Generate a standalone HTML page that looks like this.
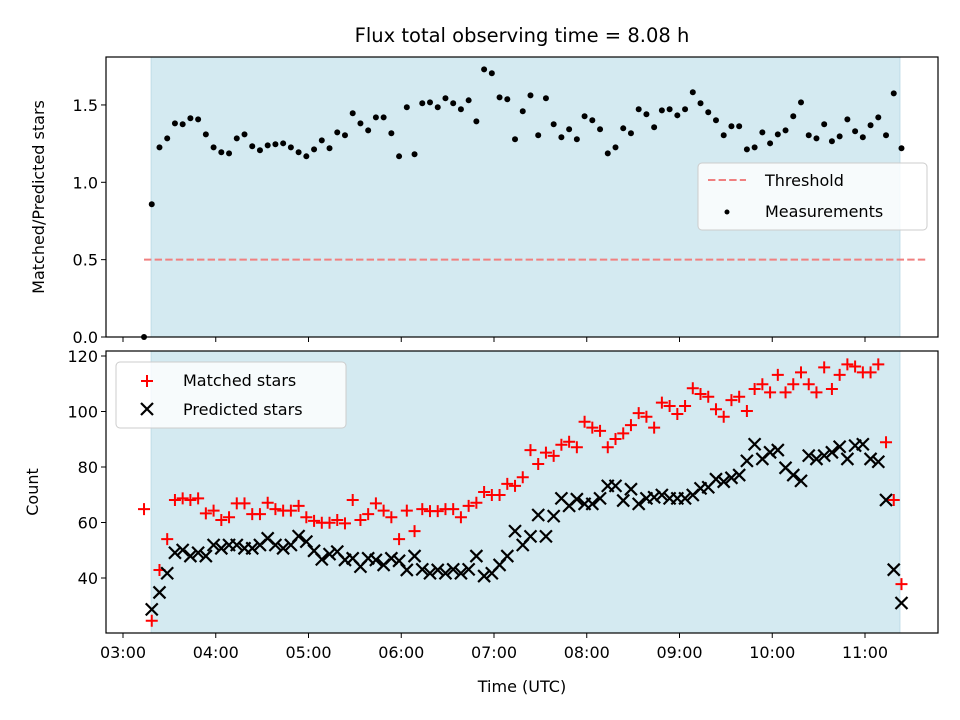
<!DOCTYPE html>
<html><head><meta charset="utf-8"><style>
html,body{margin:0;padding:0;background:#fff;}
svg{display:block;font-family:"DejaVu Sans","Liberation Sans",sans-serif;}
</style></head><body>
<svg id="chart" width="960" height="720" viewBox="0 0 960 720" xmlns="http://www.w3.org/2000/svg">
<rect width="960" height="720" fill="#fff"/>
<text x="522" y="42" font-size="19.5" text-anchor="middle">Flux total observing time = 8.08 h</text>
<g id="gtop"></g>
<g id="gbot"></g>
<text x="522" y="692" font-size="16" text-anchor="middle">Time (UTC)</text>
<text transform="translate(44,197) rotate(-90)" font-size="16" text-anchor="middle">Matched/Predicted stars</text>
<text transform="translate(38,492) rotate(-90)" font-size="16" text-anchor="middle">Count</text>
</svg>
<script>
const startMinute = 13.6;   // minutes after 03:00 of first observation
const cadenceMinutes = 5;
const ratioValues = [0,0.858,1.226,1.284,1.381,1.375,1.414,1.407,1.310,1.226,1.194,1.187,1.284,1.310,1.233,1.207,1.239,1.246,1.252,1.226,1.194,1.168,1.213,1.271,1.220,1.323,1.304,1.446,1.381,1.336,1.420,1.420,1.317,1.168,1.485,1.181,1.511,1.517,1.485,1.543,1.511,1.472,1.530,1.394,1.730,1.705,1.549,1.537,1.278,1.459,1.562,1.304,1.543,1.375,1.291,1.343,1.278,1.427,1.401,1.343,1.187,1.226,1.349,1.317,1.472,1.440,1.356,1.465,1.472,1.433,1.472,1.582,1.511,1.453,1.401,1.304,1.362,1.362,1.213,1.226,1.323,1.252,1.310,1.336,1.427,1.517,1.304,1.284,1.375,1.265,1.297,1.407,1.330,1.291,1.369,1.420,1.304,1.575,1.220];
const matchedValues = [64.8,24.6,42.9,54,68.1,68.7,68.1,68.7,63.3,64.3,60.9,61.9,66.9,66.9,63,63,67.1,64.8,64.3,64.3,66,61.9,60.6,59.9,59.9,
60.9,59.7,68.1,60.9,63,66.9,64.3,61.9,54,64.3,56.9,64.8,64.1,64.1,64.8,64.8,61.9,66,67.1,71,69.9,69.9,73.9,73.2,76.3,
86.1,81.1,85.2,84,88,89.1,87.1,96.3,94.2,93,87.1,90.1,92.1,95.1,99.4,98.1,94.2,103.2,102,99.1,102,108.4,106.3,105.3,100.8,98.1,
104.1,105.3,100.2,108.1,109.8,106.9,113.2,106.9,109.8,114.1,109.8,106.9,115.9,108.1,113.2,117,116.2,114.1,114.1,117,88.9,68.1,37.8];
const predictedValues = [null,28.7,34.8,41.7,49.1,50.1,47.9,49.1,47.9,51.9,50.7,51.9,51.9,50.7,50.7,51.9,54.3,51.9,50.7,51.9,55.1,53.1,49.8,46.7,48.6,
49.5,46.5,47.1,44.1,47.1,46.5,44.7,47.1,46.2,42.9,47.9,43.1,41.7,42.9,41.7,43.1,41.7,43.1,47.9,40.7,41.7,44.7,47.9,56.9,51.9,
55,62.7,55,62.3,68.7,66,68.4,66.7,66.7,68.7,73.2,73.2,67.9,72,66.7,68.7,69.1,69.9,68.7,68.7,68.7,69.9,72.3,72.7,75.6,
74.7,76.1,77.1,82.2,88.2,82.9,85.3,86.1,79.7,77.1,75,84.1,82.9,84.1,85.3,87.3,82.9,87.7,88.2,82.9,81.9,68.1,43,31];
const xTickLabels = ["03:00","04:00","05:00","06:00","07:00","08:00","09:00","10:00","11:00"];
const ratioTicks = [0.0,0.5,1.0,1.5];
const countTicks = [40,60,80,100,120];
const threshold = 0.5;
const spanStartMin = 18.2, spanEndMin = 502.6;

const NS="http://www.w3.org/2000/svg";
const L=106,R=938;
const xs = m => 123 + m/60*92.75;
const yTop = v => 337 - v*154.7;
const yBot = v => 578 - (v-40)*2.775;
function mk(p,tag,attrs){const e=document.createElementNS(NS,tag);for(const k in attrs)e.setAttribute(k,attrs[k]);p.appendChild(e);return e;}
const gTop=document.getElementById('gtop'), gBot=document.getElementById('gbot');

function panel(g,y0,y1,yfn,ticks,fmt,showLabels,nm){
  const s=mk(g,'rect',{x:xs(spanStartMin),y:y0,width:xs(spanEndMin)-xs(spanStartMin),height:y1-y0,fill:'#d4eaf1',stroke:'#c0dde8','stroke-width':1});
  
  
  ticks.forEach(t=>{
    const y=yfn(t);
    mk(g,'line',{x1:L-5,x2:L,y1:y,y2:y,stroke:'#000','stroke-width':1});
    const tx=mk(g,'text',{x:L-8,y:y+6,'font-size':16,'text-anchor':'end'});
    tx.textContent=fmt(t);
    
    
  });
  xTickLabels.forEach((lab,i)=>{
    const x=xs(i*60);
    mk(g,'line',{x1:x,x2:x,y1:y1,y2:y1+5,stroke:'#000','stroke-width':1});
    if(showLabels){
      const tx=mk(g,'text',{x:x,y:y1+25,'font-size':16,'text-anchor':'middle'});
      tx.textContent=lab;
      
      
    }
  });
}
panel(gTop,57,337,yTop,ratioTicks,v=>v.toFixed(1),false,'ratio');
panel(gBot,351,633,yBot,countTicks,v=>String(v),true,'count');

const th=mk(gTop,'line',{x1:xs(startMinute),x2:928,y1:yTop(threshold),y2:yTop(threshold),stroke:'#f08080','stroke-width':2,'stroke-dasharray':'7.4,3.2'});


ratioValues.forEach((v,i)=>{
  const c=mk(gTop,'circle',{cx:xs(startMinute+i*cadenceMinutes),cy:yTop(v),r:3,fill:'#000'});
  
  
});
matchedValues.forEach((v,i)=>{
  if(v==null)return;
  const x=xs(startMinute+i*cadenceMinutes),y=yBot(v);
  const p=mk(gBot,'path',{d:`M${x-6},${y}H${x+6}M${x},${y-6}V${y+6}`,stroke:'#ff0000','stroke-width':2});
  
  
});
predictedValues.forEach((v,i)=>{
  if(v==null)return;
  const x=xs(startMinute+i*cadenceMinutes),y=yBot(v);
  const p=mk(gBot,'path',{d:`M${x-6},${y-6}L${x+6},${y+6}M${x-6},${y+6}L${x+6},${y-6}`,stroke:'#000','stroke-width':2.2});
  
  
});
[[gTop,57,337],[gBot,351,633]].forEach(([g,a,b])=>{
  const f=mk(g,'rect',{x:L,y:a,width:R-L,height:b-a,fill:'none',stroke:'#000','stroke-width':1.2});
  
  
});
function legend(g,x,y,w,h,nm){
  const r=mk(g,'rect',{x:x,y:y,width:w,height:h,rx:4,fill:'#ffffff','fill-opacity':0.8,stroke:'#cccccc','stroke-width':1});
  
  
}
legend(gTop,698,163,229,67,'ratio-legend');
mk(gTop,'line',{x1:708,x2:746,y1:180,y2:180,stroke:'#f08080','stroke-width':2,'stroke-dasharray':'7.4,3.2'});
let t=mk(gTop,'text',{x:765,y:186,'font-size':16});t.textContent='Threshold';


mk(gTop,'circle',{cx:727,cy:212,r:2.5,fill:'#000'});
t=mk(gTop,'text',{x:765,y:217,'font-size':16});t.textContent='Measurements';


legend(gBot,116,362,230,66,'count-legend');
mk(gBot,'path',{d:'M141,381H153M147,375V387',stroke:'#ff0000','stroke-width':2});
t=mk(gBot,'text',{x:183,y:386,'font-size':16});t.textContent='Matched stars';


mk(gBot,'path',{d:'M141,403L153,415M141,415L153,403',stroke:'#000','stroke-width':2.2});
t=mk(gBot,'text',{x:183,y:415,'font-size':16});t.textContent='Predicted stars';


</script>
</body></html>
